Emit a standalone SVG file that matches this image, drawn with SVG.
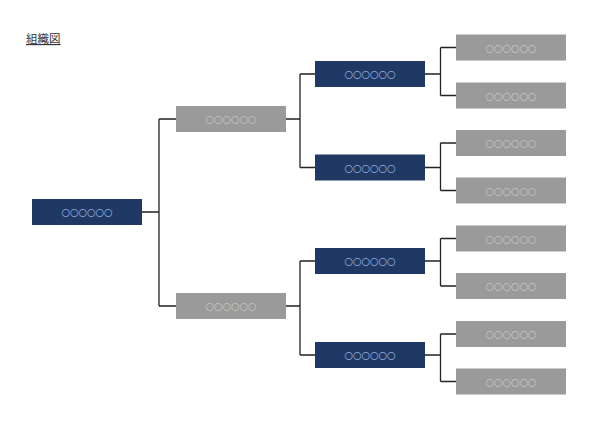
<svg xmlns="http://www.w3.org/2000/svg" width="600" height="424" viewBox="0 0 600 424">
<style>
.navy{fill:#203864}
.gray{fill:#9a9a9a}
.t{font-family:"Noto Sans CJK JP","Liberation Sans",sans-serif;font-size:8.5px;text-anchor:middle;dominant-baseline:central}
.tn{fill:#8faadc}
.tg{fill:#c4c4c4}
.c{fill:none;stroke:#222;stroke-width:1.3}
</style>
<rect width="600" height="424" fill="#fff"/>
<text x="26" y="43" font-family="'Noto Sans CJK JP','Liberation Sans',sans-serif" font-size="11.5" fill="#333" text-decoration="underline">組織図</text>
<g id="connectors">
<path class="c" d="M142 212H159M159 119V306M159 119H176M159 306H176"/>
<path class="c" d="M286 119H300M300 74V167.5M300 74H315M300 167.5H315"/>
<path class="c" d="M286 306H300M300 261V355M300 261H315M300 355H315"/>
<path class="c" d="M425 74H440.5M440.5 47.5V95.5M440.5 47.5H456M440.5 95.5H456"/>
<path class="c" d="M425 167.5H440.5M440.5 143V190.5M440.5 143H456M440.5 190.5H456"/>
<path class="c" d="M425 261H440.5M440.5 238.5V286M440.5 238.5H456M440.5 286H456"/>
<path class="c" d="M425 355H440.5M440.5 334V381.5M440.5 334H456M440.5 381.5H456"/>
</g>
<g id="root"><rect class="navy" x="32" y="199" width="110" height="26"/><text class="t tn" x="87" y="212">〇〇〇〇〇〇</text></g>
<g id="l2a"><rect class="gray" x="176" y="106" width="110" height="26"/><text class="t tg" x="231" y="119">〇〇〇〇〇〇</text></g>
<g id="l2b"><rect class="gray" x="176" y="293" width="110" height="26"/><text class="t tg" x="231" y="306">〇〇〇〇〇〇</text></g>
<g id="l3a"><rect class="navy" x="315" y="61" width="110" height="26"/><text class="t tn" x="370" y="74">〇〇〇〇〇〇</text></g>
<g id="l3b"><rect class="navy" x="315" y="154.5" width="110" height="26"/><text class="t tn" x="370" y="167.5">〇〇〇〇〇〇</text></g>
<g id="l3c"><rect class="navy" x="315" y="248" width="110" height="26"/><text class="t tn" x="370" y="261">〇〇〇〇〇〇</text></g>
<g id="l3d"><rect class="navy" x="315" y="342" width="110" height="26"/><text class="t tn" x="370" y="355">〇〇〇〇〇〇</text></g>
<g id="l4a"><rect class="gray" x="456" y="34.5" width="110" height="26"/><text class="t tg" x="511" y="47.5">〇〇〇〇〇〇</text></g>
<g id="l4b"><rect class="gray" x="456" y="82.5" width="110" height="26"/><text class="t tg" x="511" y="95.5">〇〇〇〇〇〇</text></g>
<g id="l4c"><rect class="gray" x="456" y="130" width="110" height="26"/><text class="t tg" x="511" y="143">〇〇〇〇〇〇</text></g>
<g id="l4d"><rect class="gray" x="456" y="177.5" width="110" height="26"/><text class="t tg" x="511" y="190.5">〇〇〇〇〇〇</text></g>
<g id="l4e"><rect class="gray" x="456" y="225.5" width="110" height="26"/><text class="t tg" x="511" y="238.5">〇〇〇〇〇〇</text></g>
<g id="l4f"><rect class="gray" x="456" y="273" width="110" height="26"/><text class="t tg" x="511" y="286">〇〇〇〇〇〇</text></g>
<g id="l4g"><rect class="gray" x="456" y="321" width="110" height="26"/><text class="t tg" x="511" y="334">〇〇〇〇〇〇</text></g>
<g id="l4h"><rect class="gray" x="456" y="368.5" width="110" height="26"/><text class="t tg" x="511" y="381.5">〇〇〇〇〇〇</text></g>
</svg>
